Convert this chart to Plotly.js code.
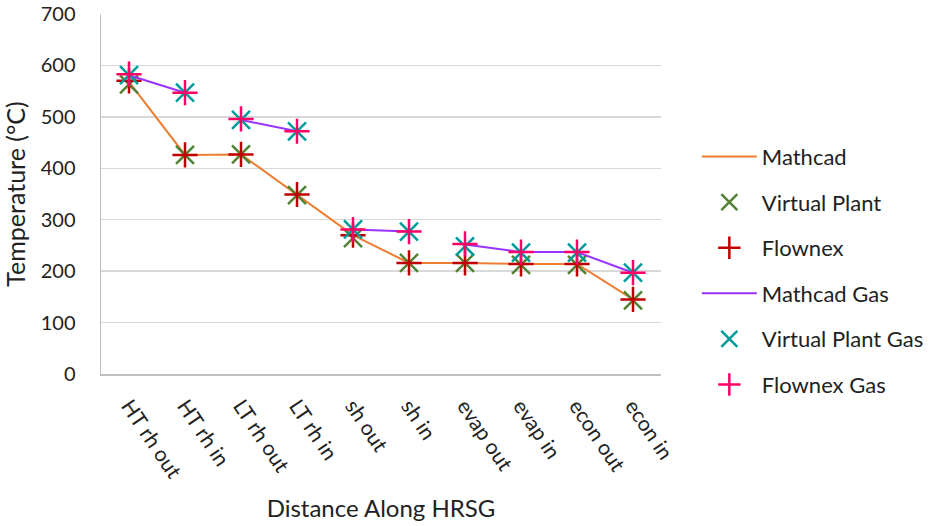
<!DOCTYPE html>
<html>
<head>
<meta charset="utf-8">
<script src="https://cdn.plot.ly/plotly-3.0.1.min.js"></script>
<style>html,body{margin:0;padding:0;background:#fff}#chart{width:930px;height:526px}</style>
</head>
<body>
<div id="chart"></div>
<script>
var categories = ["HT rh out","HT rh in","LT rh out","LT rh in","sh out","sh in","evap out","evap in","econ out","econ in"];
var mathcad      = [568, 426, 427, 349, 270, 216, 216, 214, 214, 145];
var virtualPlant = [563, 426, 427, 348, 264, 216, 216, 212, 212, 143];
var flownex      = [570, 426, 427, 349, 270, 216, 216, 214, 214, 145];
var mathcadGas      = [581, 547, 494, 472, 281, 277, 252, 237, 237, 197];
var virtualPlantGas = [581, 547, 494, 472, 281, 277, 248, 236, 236, 197];
var flownexGas      = [583, 547, 496, 472, 281, 277, 253, 237, 237, 197];
// Mathcad Gas line is drawn in separate connected runs (index ranges)
var mathcadGasRuns = [[0,1],[2,3],[4,5],[6,9]];

var F = "Lato, 'Open Sans', sans-serif";
var traces = [];
traces.push({x:categories, y:mathcad, name:"Mathcad", type:"scatter", mode:"lines",
  line:{color:"#ED7D31", width:2}, legendgroup:"a"});
traces.push({x:categories, y:virtualPlant, name:"Virtual Plant", type:"scatter", mode:"markers",
  marker:{symbol:"x-thin-open", size:18, line:{color:"#548235", width:2.5}, color:"#548235"}, legendgroup:"b"});
traces.push({x:categories, y:flownex, name:"Flownex", type:"scatter", mode:"markers",
  marker:{symbol:"cross-thin-open", size:18, line:{color:"#C00000", width:2.5}, color:"#C00000"}, legendgroup:"c"});
mathcadGasRuns.forEach(function(r, i){
  traces.push({x:categories.slice(r[0], r[1]+1), y:mathcadGas.slice(r[0], r[1]+1), name:"Mathcad Gas",
    type:"scatter", mode:"lines", line:{color:"#9933FF", width:2}, legendgroup:"d", showlegend:i===0});
});
traces.push({x:categories, y:virtualPlantGas, name:"Virtual Plant Gas", type:"scatter", mode:"markers",
  marker:{symbol:"x-thin-open", size:18, line:{color:"#009B9B", width:2.5}, color:"#009B9B"}, legendgroup:"e"});
traces.push({x:categories, y:flownexGas, name:"Flownex Gas", type:"scatter", mode:"markers",
  marker:{symbol:"cross-thin-open", size:18, line:{color:"#FF0066", width:2.5}, color:"#FF0066"}, legendgroup:"f"});

var layout = {
  width:930, height:526,
  margin:{l:101, r:269, t:14, b:152, autoexpand:false},
  paper_bgcolor:"#fff", plot_bgcolor:"#fff",
  font:{family:F, size:20, color:"#333"},
  showlegend:true,
  legend:{x:1.064, xanchor:"left", y:0.662, yanchor:"top", traceorder:"grouped", tracegroupgap:14,
    itemwidth:55, font:{family:F, size:22, color:"#222"}, bgcolor:"rgba(0,0,0,0)"},
  xaxis:{type:"category", categoryorder:"array", categoryarray:categories, range:[-0.5, 9.5],
    tickangle:56, showgrid:false, showline:true, linecolor:"#BFBFBF", linewidth:1.5,
    ticks:"", ticklabelstandoff:10, tickfont:{family:F, size:21, color:"#222"},
    title:{text:"Distance Along HRSG", font:{family:F, size:24, color:"#222"}, standoff:18},
    automargin:false, zeroline:false, fixedrange:true},
  yaxis:{range:[0,700], dtick:100, tick0:0, showgrid:true, gridcolor:"#D9D9D9", gridwidth:1.5,
    showline:true, linecolor:"#BFBFBF", linewidth:1.5, zeroline:false, ticks:"",
    ticklabelstandoff:20, tickfont:{family:F, size:20, color:"#222"},
    title:{text:"Temperature (°C)", font:{family:F, size:25, color:"#222"}, standoff:16},
    automargin:false, fixedrange:true}
};
Plotly.newPlot("chart", traces, layout, {displayModeBar:false, staticPlot:true});
</script>
</body>
</html>
